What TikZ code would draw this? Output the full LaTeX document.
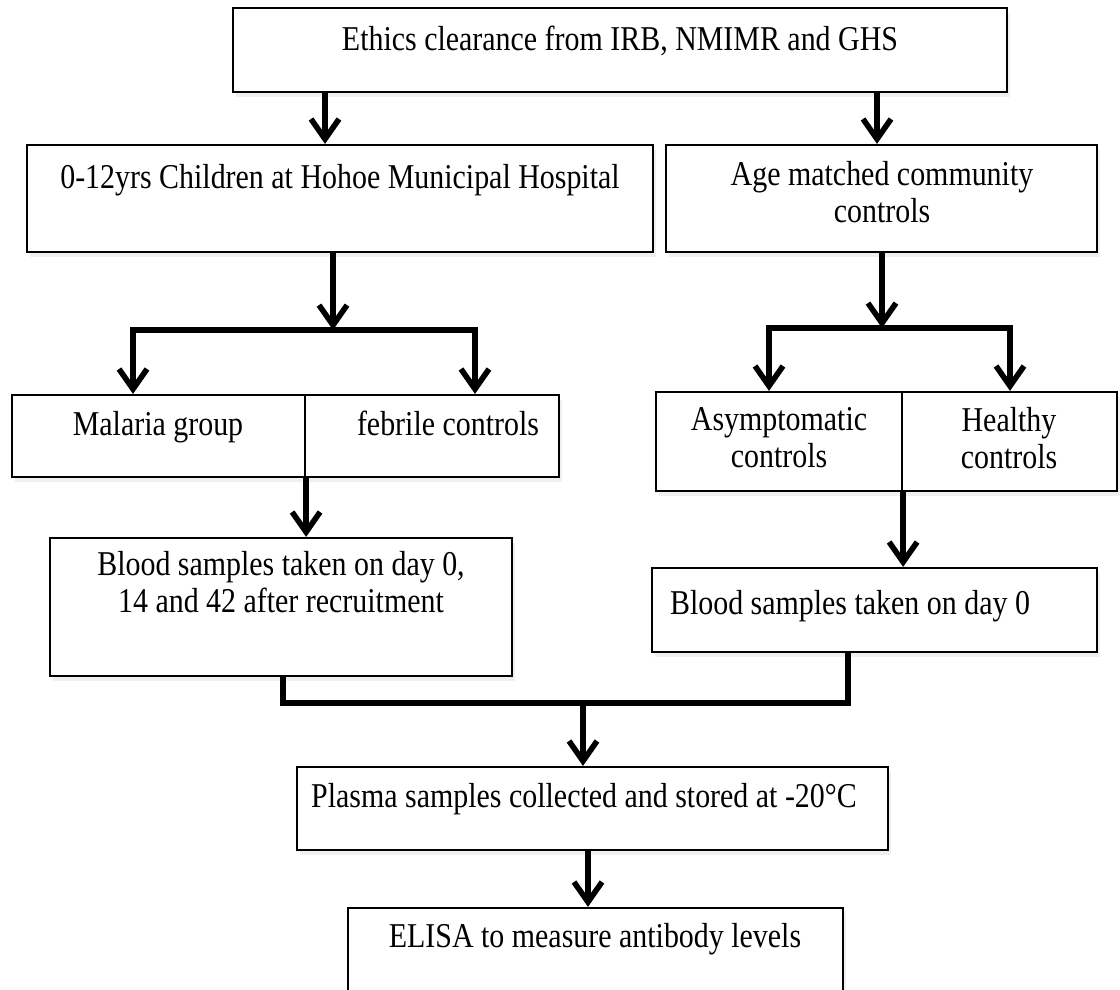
\documentclass[tikz,border=0pt]{standalone}
\usepackage{fontspec}
\setmainfont[FakeStretch=0.86]{Liberation Serif}
\usepackage{tikz}
\usetikzlibrary{arrows.meta,fit,shadows}
\tikzstyle{box} = [draw, line width=1.1pt, fill=white, inner sep=0pt, drop shadow={shadow xshift=1.5pt, shadow yshift=-2.5pt, opacity=0.12}]
\tikzstyle{txt} = [align=center, inner sep=0pt, text depth=0.25em, font=\fontsize{17.4}{18.5}\selectfont]
\tikzstyle{arr} = [line width=2.8pt, ->, >={Straight Barb[length=10pt,width=14pt]}]
\tikzstyle{bar} = [line width=3pt]

\begin{document}
\begin{tikzpicture}[x=0.5pt, y=-0.5pt]
    \useasboundingbox (0,0) rectangle (1120,990);
    \clip (0,0) rectangle (1120,990);
    \node (ethics) [box, fit={(233,8) (1007,92)}] {};
    \node (children) [box, fit={(27,145) (653,252)}] {};
    \node (agematch) [box, fit={(666,145) (1097,252)}] {};
    \node (malaria) [box, fit={(12,395) (305,477)}] {};
    \node (febrile) [box, fit={(305,395) (559,477)}] {};
    \node (asym) [box, fit={(656,392) (902,491)}] {};
    \node (healthy) [box, fit={(902,392) (1117,491)}] {};
    \node (bloodA) [box, fit={(50,538) (512,676)}] {};
    \node (bloodB) [box, fit={(652,568) (1097,652)}] {};
    \node (plasma) [box, fit={(297,767) (888,850)}] {};
    \node (elisa) [box, fit={(348,908) (843,1010)}] {};

    \node (ethicstxt) [txt] at (620,41) {Ethics clearance from IRB, NMIMR and GHS};
    \node (childrentxt) [txt] at (340,179) {0-12yrs Children at Hohoe Municipal Hospital};
    \node (agematchtxt) [txt] at (882,194) {Age matched community\\controls};
    \node (malariatxt) [txt] at (158,426) {Malaria group};
    \node (febriletxt) [txt] at (448,426) {febrile controls};
    \node (asymtxt) [txt] at (779,440) {Asymptomatic\\controls};
    \node (healthytxt) [txt] at (1009,440) {Healthy\\controls};
    \node (bloodAtxt) [txt] at (281,584) {Blood samples taken on day 0,\\14 and 42 after recruitment};
    \node (bloodBtxt) [txt] at (850,605) {Blood samples taken on day 0};
    \node (plasmatxt) [txt] at (584,798) {Plasma samples collected and stored at -20\textdegree C};
    \node (elisatxt) [txt] at (595,938) {ELISA to measure antibody levels};

    \coordinate (lbar) at (333,330);
    \coordinate (rbar) at (882,328);
    \coordinate (mbar) at (583,703);

    \draw [arr] (325,0 |- ethics.south) -- (325,0 |- children.north);
    \draw [arr] (877,0 |- ethics.south) -- (877,0 |- agematch.north);

    \draw [arr] (children.south -| lbar) -- (lbar);
    \draw [arr] (lbar) -- (lbar -| 133,0) -- (133,0 |- malaria.north);
    \draw [arr] (lbar) -- (lbar -| 475,0) -- (475,0 |- febrile.north);

    \draw [arr] (agematch.south -| rbar) -- (rbar);
    \draw [arr] (rbar) -- (rbar -| 769,0) -- (769,0 |- asym.north);
    \draw [arr] (rbar) -- (rbar -| 1010,0) -- (1010,0 |- healthy.north);

    \draw [arr] (malaria.south east) -- (malaria.south east |- bloodA.north);
    \draw [arr] (asym.south east) -- (asym.south east |- bloodB.north);

    \draw [bar] (283,0 |- bloodA.south) -- (283,0 |- mbar) -- (848,0 |- mbar) -- (848,0 |- bloodB.south);
    \draw [arr] (mbar) -- (mbar |- plasma.north);
    \draw [arr] (588,0 |- plasma.south) -- (588,0 |- elisa.north);
\end{tikzpicture}
\end{document}
